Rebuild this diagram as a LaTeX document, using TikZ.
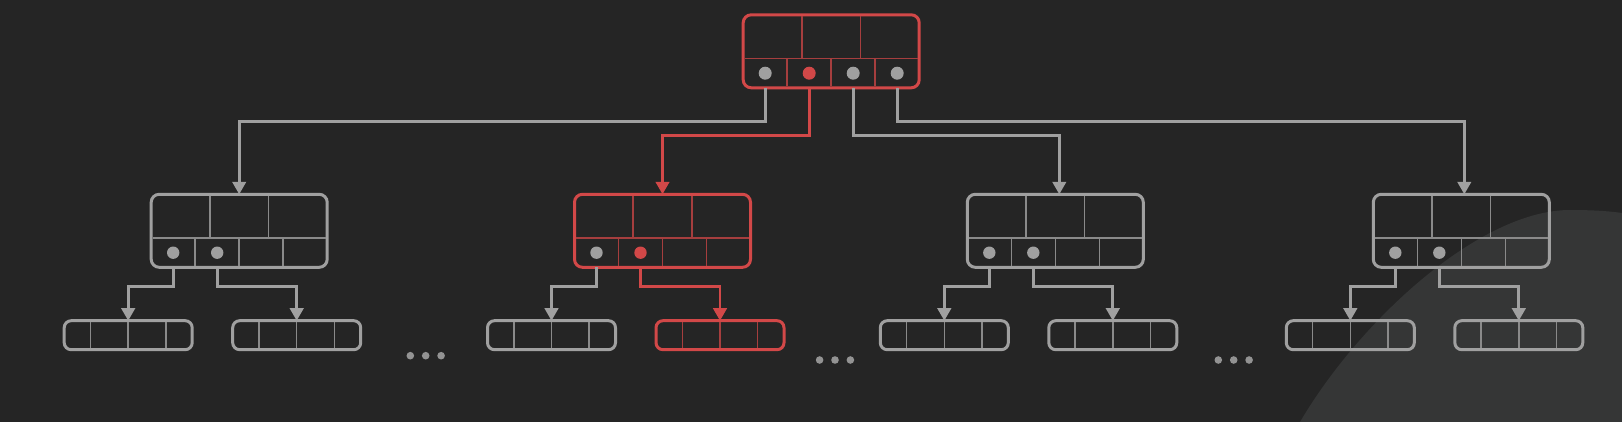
\documentclass[tikz,border=0pt]{standalone}
\usepackage{tikz}
\usetikzlibrary{positioning,arrows.meta,calc}
\definecolor{canvas}{HTML}{252525}
\definecolor{blob}{HTML}{353636}
\definecolor{keygrey}{HTML}{A0A0A0}
\definecolor{sepgrey}{HTML}{8A8A8A}
\definecolor{hotred}{HTML}{D24848}
\definecolor{sepred}{HTML}{A63E3E}
\tikzset{
  inode/.style  = {rectangle, rounded corners=8pt, draw=keygrey, line width=3pt,
                   minimum width=176pt, minimum height=73pt, inner sep=0pt, outer sep=0pt},
  leaf/.style   = {rectangle, rounded corners=7pt, draw=keygrey, line width=3pt,
                   minimum width=128pt, minimum height=29pt, inner sep=0pt, outer sep=0pt},
  hot/.style    = {draw=hotred},
  sep/.style    = {line width=1.5pt, draw=sepgrey},
  hotsep/.style = {line width=1.5pt, draw=sepred},
  link/.style   = {-{Triangle[width=13.5pt,length=12.5pt]}, line width=2.7pt, draw=keygrey},
  hotlink/.style = {link, draw=hotred},
}
% key rows of an inner node, with the pointer slots as coordinates
\newcommand{\innercells}[2]{%
  \begin{scope}[shift={(#1.center)}]
    \draw[#2] (-86.5,7) -- (86.5,7);
    \draw[#2] (-29.3,-35) -- (-29.3,7) (29.3,-35) -- (29.3,7);
    \draw[#2] (-44,7) -- (-44,35) (0,7) -- (0,35) (44,7) -- (44,35);
    \coordinate (#1-1) at (-66,21.9);
    \coordinate (#1-2) at (-22,21.9);
    \coordinate (#1-3) at (22,21.9);
    \coordinate (#1-4) at (66,21.9);
  \end{scope}}
\newcommand{\leafcells}[2]{%
  \begin{scope}[shift={(#1.center)}]
    \draw[#2] (-37.7,-13) -- (-37.7,13) (0,-13) -- (0,13) (37.7,-13) -- (37.7,13);
  \end{scope}}

\begin{document}
\begin{tikzpicture}[x=1pt, y=-1pt]
  % backdrop
  \fill[canvas] (0,0) rectangle (1622,422);
  \fill[blob] (1300,422) .. controls (1360,320) and (1480,210) .. (1570,210)
    .. controls (1600,210) and (1615,212) .. (1622,213) -- (1622,422) -- cycle;

  \node[inode, hot] (root) at (831.2,51.3) {};
  \node[inode]      (m1) at (239.2,230.8) {};
  \node[inode, hot] (m2) at (662.5,230.8) {};
  \node[inode]      (m3) at (1055.3,230.8) {};
  \node[inode]      (m4) at (1461.3,230.8) {};

  \node[leaf, below=53.4pt of m1, xshift=-111pt] (m1a) {};
  \node[leaf, below=53.4pt of m1, xshift=57.5pt] (m1b) {};
  \node[leaf, below=53.4pt of m2, xshift=-111pt] (m2a) {};
  \node[leaf, hot, below=53.4pt of m2, xshift=57.5pt] (m2b) {};
  \node[leaf, below=53.4pt of m3, xshift=-111pt] (m3a) {};
  \node[leaf, below=53.4pt of m3, xshift=57.5pt] (m3b) {};
  \node[leaf, below=53.4pt of m4, xshift=-111pt] (m4a) {};
  \node[leaf, below=53.4pt of m4, xshift=57.5pt] (m4b) {};

  \innercells{root}{hotsep}
  \innercells{m1}{sep}
  \innercells{m2}{hotsep}
  \innercells{m3}{sep}
  \innercells{m4}{sep}
  \foreach \l in {m1a,m1b,m2a,m3a,m3b,m4a,m4b} {\leafcells{\l}{sep}}
  \leafcells{m2b}{hotsep}

  % pointers
  \fill[keygrey] (root-1) circle (6.5pt) (root-3) circle (6.5pt) (root-4) circle (6.5pt);
  \fill[hotred] (root-2) circle (6.5pt);
  \foreach \m in {m1,m3,m4} \fill[keygrey] (\m-1) circle (6.2pt) (\m-2) circle (6.2pt);
  \fill[keygrey] (m2-1) circle (6.2pt);
  \fill[hotred] (m2-2) circle (6.2pt);

  \draw[link]    (root-1 |- root.south) -- ++(0,34) -| (m1.north);
  \draw[hotlink] (root-2 |- root.south) -- ++(0,48) -| (m2.north);
  \draw[link]    (root-3 |- root.south) -- ++(0,48) -| ($(m3.north)+(4,0)$);
  \draw[link]    (root-4 |- root.south) -- ++(0,34) -| ($(m4.north)+(3,0)$);

  \draw[link] (m1-1 |- m1.south) -- ++(0,19) -| (m1a.north);
  \draw[link] (m1-2 |- m1.south) -- ++(0,19) -| (m1b.north);
  \draw[link] (m2-1 |- m2.south) -- ++(0,19) -| (m2a.north);
  \draw[hotlink] (m2-2 |- m2.south) -- ++(0,19) -| (m2b.north);
  \draw[link] (m3-1 |- m3.south) -- ++(0,19) -| (m3a.north);
  \draw[link] (m3-2 |- m3.south) -- ++(0,19) -| (m3b.north);
  \draw[link] (m4-1 |- m4.south) -- ++(0,19) -| (m4a.north);
  \draw[link] (m4-2 |- m4.south) -- ++(0,19) -| (m4b.north);

  % elided siblings
  \foreach \x/\y in {425.7/355.7, 835/360, 1233.7/360}
    \foreach \d in {-15.4,0,15.4}
      \fill[keygrey!92!black] (\x+\d,\y) circle (3.8pt);
\end{tikzpicture}
\end{document}
